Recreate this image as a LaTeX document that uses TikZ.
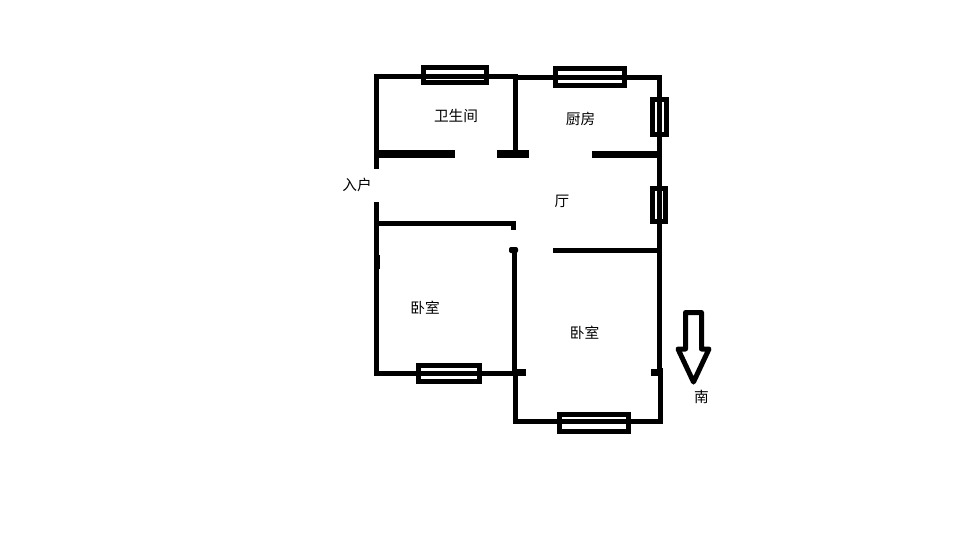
\documentclass[tikz,border=0pt]{standalone}
\usepackage{fontspec}
\setmainfont{Noto Sans CJK SC}
\tikzset{
  wall/.style={draw=black, line width=3.75pt},
  thinwall/.style={draw=black, line width=3.2pt},
  heavywall/.style={draw=black, line width=5.6pt},
  winframe/.style={draw=black, line width=3.75pt},
  lbl/.style={font=\fontsize{11}{11}\selectfont, inner sep=0pt}
}
\begin{document}
\begin{tikzpicture}[x=0.75pt,y=-0.75pt]
\useasboundingbox (0,0) rectangle (960,540);
% windows
\foreach \xa/\ya/\xb/\yb in {423.5/67.5/486.5/82,555.5/68.5/624.5/85.5,418.5/365.5/479.5/381.5,559.5/414.5/628.5/431,
    652.5/99.5/666.5/134,652.5/188.5/665.5/221.5} {
    \draw[winframe] (\xa,\ya) rectangle (\xb,\yb);
}
% outer walls
\draw[wall] (376.7,169) -- (376.7,76.5) -- (518,76.5);
\draw[wall] (516,77) -- (659.4,77) -- (659.4,372);
\draw[wall] (376.7,202) -- (376.7,373.3) -- (526,373.3);
\draw[wall] (660.3,368) -- (660.3,421.3) -- (515.3,421.3) -- (515.3,373);
% inner walls
\draw[thinwall] (515.5,77) -- (515.5,153);
\draw[heavywall] (378,153.8) -- (455,153.8);
\draw[heavywall] (497,153.8) -- (529,153.8);
\draw[heavywall] (592,154.3) -- (659,154.3);
\draw[wall] (376.7,223.3) -- (515.9,223.3);
\draw[wall] (513.4,221) -- (513.4,230);
\draw[wall] (553,250.3) -- (659,250.3);
\draw[wall] (514,250) -- (514,374);
% small bits
\fill[rounded corners=1.5pt] (509,247) rectangle (518,253);
\fill (376.7,255) rectangle (380,269);
\fill (515,369.3) rectangle (526,376);
\fill (651,369) rectangle (660,376);
% south arrow
\draw[wall, line join=round] (685.5,312.5) -- (701.5,312.5) -- (701.5,349) -- (709,349)
    -- (693.5,382) -- (678,349) -- (685.5,349) -- cycle;
% labels
\node[lbl] (wc) at (456,116) {卫生间};
\node[lbl] (kitchen) at (580.5,119) {厨房};
\node[lbl] (hall) at (562,201) {厅};
\node[lbl] (entry) at (357,185) {入户};
\node[lbl] (bedroomw) at (425,308) {卧室};
\node[lbl] (bedroome) at (584.5,333) {卧室};
\node[lbl] (south) at (701.5,397) {南};
\end{tikzpicture}
\end{document}
